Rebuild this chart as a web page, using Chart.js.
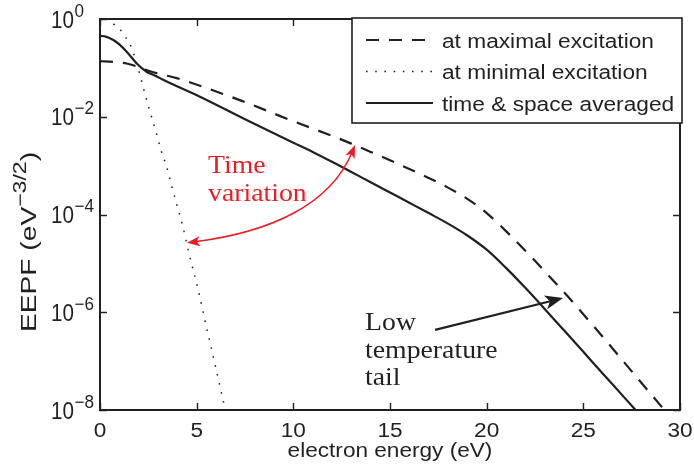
<!DOCTYPE html>
<html><head><meta charset="utf-8">
<script src="https://cdn.jsdelivr.net/npm/chart.js@4.4.0/dist/chart.umd.min.js"></script>
<style>html,body{margin:0;padding:0;background:#fff;}#wrap{width:694px;height:472px;}</style>
</head><body><div id="wrap"><canvas id="c" width="694" height="472"></canvas></div>
<script>
// ---- data ----
const energyMax = [0, 0.7, 1.38, 1.98, 2.59, 3.26, 3.97, 4.83, 7.3, 10, 12, 13, 14, 15, 16, 17, 18, 19, 20, 21, 22, 23, 24, 25, 26, 27, 28, 29, 29.5];
const eepfMax = [0.138, 0.132, 0.123, 0.105, 0.0851, 0.0724, 0.0617, 0.0479, 0.0214, 8.1e-3, 4.07e-3, 2.82e-3, 1.91e-3, 1.29e-3, 8.5e-4, 5.6e-4, 3.55e-4, 2.09e-4, 1.07e-4, 4.57e-5, 1.82e-5, 6.9e-6, 2.57e-6, 9.1e-7, 3.16e-7, 1.07e-7, 3.6e-8, 1.23e-8, 7.1e-9];
const energyMin = [0.4, 0.72, 1.12, 1.38, 1.64, 1.85, 2.07, 2.35, 2.62, 2.90, 3.17, 3.48, 3.74, 4.00, 4.26, 4.60, 5.09, 5.53, 5.98, 6.43, 6.55];
const eepfMin = [1.12, 0.776, 0.562, 0.389, 0.257, 0.141, 0.0708, 0.0269, 0.0115, 4.8e-3, 2.0e-3, 8.5e-4, 3.47e-4, 1.45e-4, 6.2e-5, 1.62e-5, 2.75e-6, 4.5e-7, 7.6e-8, 1.23e-8, 7.6e-9];
const energyAvg = [0, 0.3, 0.69, 1.0, 1.38, 1.9, 2.41, 2.8, 3.45, 5.17, 7.5, 10, 11, 12, 13, 14, 15, 16, 17, 18, 19, 20, 21, 22, 23, 24, 25, 26, 27, 28];
const eepfAvg = [0.452, 0.437, 0.372, 0.302, 0.214, 0.123, 0.0832, 0.0708, 0.0525, 0.0257, 8.9e-3, 2.95e-3, 1.91e-3, 1.2e-3, 7.4e-4, 4.57e-4, 2.82e-4, 1.74e-4, 1.07e-4, 6.5e-5, 3.72e-5, 1.91e-5, 8.1e-6, 3.16e-6, 1.17e-6, 4.27e-7, 1.55e-7, 5.6e-8, 2.04e-8, 7.4e-9];
const seriesNames = ['at maximal excitation', 'at minimal excitation', 'time & space averaged'];
const xTicks = [0, 5, 10, 15, 20, 25, 30];
const xTickLabels = ['0', '5', '10', '15', '20', '25', '30'];
const yTicks = [1, 1e-2, 1e-4, 1e-6, 1e-8];
const yTickExponents = ['0', '\u22122', '\u22124', '\u22126', '\u22128'];
const xTitle = 'electron energy (eV)';
const yTitleParts = ['EEPF (eV', '\u22123/2', ')'];
// annotations (data coordinates: energy, EEPF)
const timeArrow = [[4.50, 2.63e-5], [8.79, 4.37e-5], [11.90, 1.55e-4], [13.19, 2.63e-3]];
const timeText = [['Time', 5.59, 7.08e-4], ['variation', 5.59, 1.9e-4]];
const tailArrow = [[17.33, 4.37e-7], [23.95, 1.95e-6]];
const tailText = [['Low', 13.71, 4.37e-7], ['temperature', 13.71, 1.15e-7], ['tail', 13.71, 3.24e-8]];

const BLACK = '#231f20';
const RED = '#ed1c24';
const SANS = '"Liberation Sans", Arial, sans-serif';
const SERIF = '"Liberation Serif", "Times New Roman", serif';
const DASH = [13, 10];
const DOT = [1.6, 7.6];

function pts(xs, ys) { return xs.map((x, i) => ({x: x, y: ys[i]})); }

function stext(ctx, txt, x, y, font, sx, align, color) {
  ctx.save();
  ctx.font = font; ctx.fillStyle = color || BLACK;
  ctx.textBaseline = 'alphabetic'; ctx.textAlign = 'left';
  const w = ctx.measureText(txt).width * sx;
  const x0 = align === 'center' ? x - w / 2 : (align === 'right' ? x - w : x);
  ctx.translate(x0, y); ctx.scale(sx, 1);
  ctx.fillText(txt, 0, 0);
  ctx.restore();
  return w;
}

function head(ctx, tx, ty, ang, len, wid, color) {
  ctx.save();
  ctx.translate(tx, ty); ctx.rotate(ang);
  ctx.beginPath();
  ctx.moveTo(0, 0);
  ctx.lineTo(-len, -wid / 2);
  ctx.lineTo(-len * 0.75, 0);
  ctx.lineTo(-len, wid / 2);
  ctx.closePath();
  ctx.fillStyle = color; ctx.fill();
  ctx.restore();
}

const deco = {
  id: 'deco',
  afterDraw(chart) {
    const ctx = chart.ctx, a = chart.chartArea, xs = chart.scales.x, ys = chart.scales.y;
    ctx.save();
    ctx.strokeStyle = BLACK; ctx.lineWidth = 1.4; ctx.setLineDash([]);
    // inward ticks
    ctx.beginPath();
    xTicks.forEach(v => {
      const p = Math.round(xs.getPixelForValue(v)) + 0.5;
      ctx.moveTo(p, a.bottom); ctx.lineTo(p, a.bottom - 7);
      ctx.moveTo(p, a.top); ctx.lineTo(p, a.top + 7);
    });
    yTicks.forEach(v => {
      const p = Math.round(ys.getPixelForValue(v)) + 0.5;
      ctx.moveTo(a.left, p); ctx.lineTo(a.left + 7, p);
      ctx.moveTo(a.right, p); ctx.lineTo(a.right - 7, p);
    });
    ctx.stroke();
    // axes box
    ctx.lineWidth = 2;
    ctx.strokeRect(a.left, a.top, a.right - a.left, a.bottom - a.top);

    // x tick labels
    xTicks.forEach((v, i) => {
      stext(ctx, xTickLabels[i], xs.getPixelForValue(v), a.bottom + 27, '20px ' + SANS, 1.13, 'center');
    });
    // y tick labels 10^n
    yTicks.forEach((v, i) => {
      const p = ys.getPixelForValue(v);
      const w = stext(ctx, '10', a.left - 49, p + 8.5, '24px ' + SANS, 0.86, 'left');
      stext(ctx, yTickExponents[i], a.left - 49 + w + 0.5, p - 2.4, '18px ' + SANS, 0.95, 'left');
    });
    // x title
    stext(ctx, xTitle, (a.left + a.right) / 2, a.bottom + 47, '20px ' + SANS, 1.13, 'center');
    // y title (rotated)
    ctx.save();
    ctx.translate(36, 242); ctx.rotate(-Math.PI / 2);
    const st = 1.28;
    ctx.font = '22px ' + SANS;
    const w1 = ctx.measureText(yTitleParts[0]).width * st;
    const w3 = ctx.measureText(yTitleParts[2]).width * st;
    ctx.font = '18px ' + SANS;
    const w2 = ctx.measureText(yTitleParts[1]).width * st;
    let x0 = -(w1 + w2 + w3) / 2;
    stext(ctx, yTitleParts[0], x0, 0, '22px ' + SANS, st, 'left');
    stext(ctx, yTitleParts[1], x0 + w1, -10, '18px ' + SANS, st, 'left');
    stext(ctx, yTitleParts[2], x0 + w1 + w2, 0, '22px ' + SANS, st, 'left');
    ctx.restore();

    // legend
    const lx = a.right + 2, ly = a.top - 1, lw = 330, lh = 105;
    ctx.fillStyle = '#fff';
    ctx.fillRect(lx - lw, ly, lw, lh);
    ctx.lineWidth = 1.6; ctx.strokeStyle = BLACK;
    ctx.strokeRect(lx - lw, ly, lw, lh);
    const styles = [{dash: DASH, w: 2.2}, {dash: DOT, w: 1.5}, {dash: [], w: 2.2}];
    const rowY = [ly + 22, ly + 53.5, ly + 85];
    styles.forEach((s, i) => {
      ctx.save();
      ctx.beginPath(); ctx.setLineDash(s.dash); ctx.lineWidth = s.w; ctx.strokeStyle = BLACK;
      ctx.lineCap = 'butt';
      ctx.moveTo(lx - lw + 14, rowY[i]); ctx.lineTo(lx - lw + 81, rowY[i]); ctx.stroke();
      ctx.restore();
      stext(ctx, seriesNames[i], lx - lw + 90, rowY[i] + 7.5, '20px ' + SANS, 1.135, 'left');
    });

    // red "Time variation" double arrow
    const P = timeArrow.map(q => [xs.getPixelForValue(q[0]), ys.getPixelForValue(q[1])]);
    ctx.save();
    ctx.strokeStyle = RED; ctx.lineWidth = 1.5; ctx.setLineDash([]);
    const a0 = Math.atan2(P[0][1] - P[1][1], P[0][0] - P[1][0]);
    const a3 = Math.atan2(P[3][1] - P[2][1], P[3][0] - P[2][0]);
    const s0 = [P[0][0] - 8 * Math.cos(a0), P[0][1] - 8 * Math.sin(a0)];
    const s3 = [P[3][0] - 8 * Math.cos(a3), P[3][1] - 8 * Math.sin(a3)];
    ctx.beginPath();
    ctx.moveTo(s0[0], s0[1]);
    ctx.bezierCurveTo(P[1][0], P[1][1], P[2][0], P[2][1], s3[0], s3[1]);
    ctx.stroke();
    head(ctx, P[0][0], P[0][1], a0, 13, 10, RED);
    head(ctx, P[3][0], P[3][1], a3, 13, 10, RED);
    ctx.restore();
    timeText.forEach(t => stext(ctx, t[0], xs.getPixelForValue(t[1]), ys.getPixelForValue(t[2]), '25px ' + SERIF, 1.11, 'left', RED));

    // black "Low temperature tail" arrow
    const T = tailArrow.map(q => [xs.getPixelForValue(q[0]), ys.getPixelForValue(q[1])]);
    const at = Math.atan2(T[1][1] - T[0][1], T[1][0] - T[0][0]);
    ctx.save();
    ctx.strokeStyle = BLACK; ctx.lineWidth = 2.2;
    ctx.beginPath(); ctx.moveTo(T[0][0], T[0][1]);
    ctx.lineTo(T[1][0] - 10 * Math.cos(at), T[1][1] - 10 * Math.sin(at)); ctx.stroke();
    head(ctx, T[1][0], T[1][1], at, 18, 14, BLACK);
    ctx.restore();
    tailText.forEach(t => stext(ctx, t[0], xs.getPixelForValue(t[1]), ys.getPixelForValue(t[2]), '25px ' + SERIF, 1.11, 'left', BLACK));
    ctx.restore();
  }
};

new Chart(document.getElementById('c'), {
  type: 'line',
  data: {
    datasets: [
      {label: seriesNames[0], data: pts(energyMax, eepfMax), borderColor: BLACK, borderWidth: 2.2, borderDash: DASH, pointRadius: 0, cubicInterpolationMode: 'monotone', clip: 0, fill: false},
      {label: seriesNames[1], data: pts(energyMin, eepfMin), borderColor: BLACK, borderWidth: 1.5, borderDash: DOT, borderCapStyle: 'butt', pointRadius: 0, cubicInterpolationMode: 'monotone', clip: 0, fill: false},
      {label: seriesNames[2], data: pts(energyAvg, eepfAvg), borderColor: BLACK, borderWidth: 2.2, pointRadius: 0, cubicInterpolationMode: 'monotone', clip: 0, fill: false}
    ]
  },
  options: {
    responsive: false,
    devicePixelRatio: 1,
    animation: false,
    layout: {padding: {left: 100, top: 19, right: 14, bottom: 62}},
    plugins: {legend: {display: false}, tooltip: {enabled: false}, title: {display: false}},
    scales: {
      x: {type: 'linear', min: 0, max: 30, grid: {display: false, drawTicks: false}, border: {display: false}, ticks: {display: false}, title: {display: false}},
      y: {type: 'logarithmic', min: 1e-8, max: 1, grid: {display: false, drawTicks: false}, border: {display: false}, ticks: {display: false}, title: {display: false}}
    }
  },
  plugins: [deco]
});
</script>
</body></html>
